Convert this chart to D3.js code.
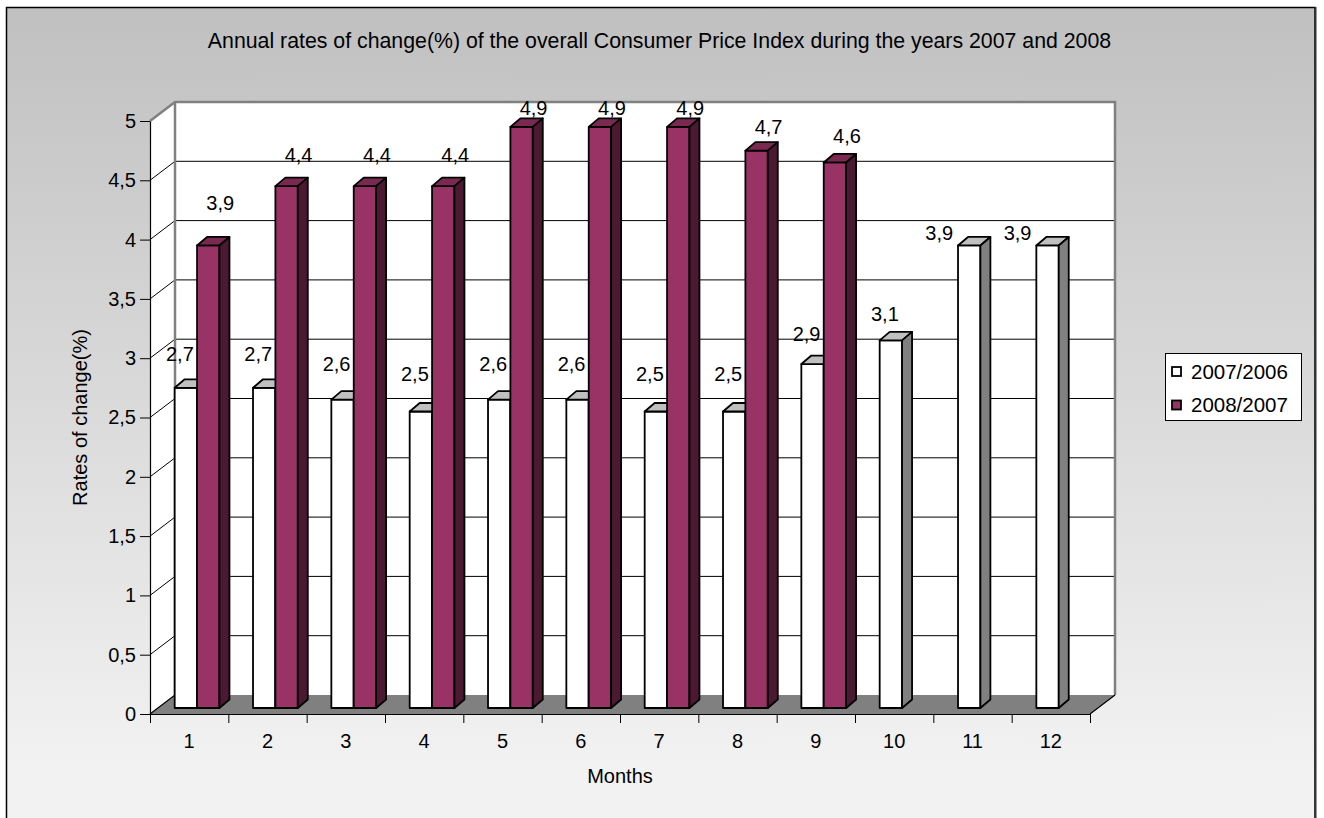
<!DOCTYPE html>
<html><head><meta charset="utf-8">
<script src="https://cdn.jsdelivr.net/npm/d3@7"></script>
<style>
body{margin:0;background:#fff}
svg text{font-family:"Liberation Sans",Arial,Helvetica,sans-serif;fill:#000}
</style>
</head><body>
<svg id="c" width="1324" height="818"></svg>
<script>
// ---- data ----
const months = ["1","2","3","4","5","6","7","8","9","10","11","12"];
const seriesNames = ["2007/2006","2008/2007"];
const rates2007 = [2.7,2.7,2.6,2.5,2.6,2.6,2.5,2.5,2.9,3.1,3.9,3.9];
const rates2008 = [3.9,4.4,4.4,4.4,4.9,4.9,4.9,4.7,4.6,null,null,null];
const yTicks = [0,0.5,1,1.5,2,2.5,3,3.5,4,4.5,5];
const titleText = "Annual rates of change(%) of the overall Consumer Price Index during the years 2007 and 2008";

// ---- layout / style ----
const W = 1324, H = 818;
const PX0 = 150, PX1 = 1090, PY0 = 714, PY1 = 121;
const DX = 25, DY = -19;            // wall depth
const BFX = 7.9, BFY = -6;          // bar front-plane offset
const BDX = 10, BDY = -8.5;         // bar depth
const colors = [
  {front:"#ffffff", top:"#c0c0c0", side:"#808080"},
  {front:"#993366", top:"#7a2951", side:"#4c1933"}
];
const fmt = v => String(v).replace(".", ",");

const svg = d3.select("#c");
const defs = svg.append("defs");
const grad = defs.append("linearGradient").attr("id","bg")
  .attr("gradientUnits","userSpaceOnUse").attr("x1",0).attr("y1",7).attr("x2",0).attr("y2",770);
grad.append("stop").attr("offset","0%").attr("stop-color","#c0c0c0");
grad.append("stop").attr("offset","100%").attr("stop-color","#f2f2f2");

svg.append("rect").attr("x",6.5).attr("y",7.5).attr("width",1308.5).attr("height",830)
  .attr("fill","url(#bg)").attr("stroke","#000").attr("stroke-width",1.5);
svg.append("line").attr("x1",1315.5).attr("x2",1315.5).attr("y1",7).attr("y2",H)
  .attr("stroke","#333").attr("stroke-width",2);

const x = d3.scaleBand().domain(months).range([PX0,PX1]);
const xb = d3.scaleLinear().domain([0,12]).range([PX0,PX1]);
const y = d3.scaleLinear().domain([0,5]).range([PY0,PY1]);
const bw = x.bandwidth()/3.5;
const gOff = (x.bandwidth()-2*bw)/2;

// walls
const g = svg.append("g");
g.append("path").attr("d",`M${PX0},${y(5)}L${PX0+DX},${y(5)+DY}L${PX0+DX},${y(0)+DY}L${PX0},${y(0)}Z`)
  .attr("fill","#fff");
g.append("rect").attr("x",PX0+DX).attr("y",y(5)+DY).attr("width",PX1-PX0).attr("height",y(0)-y(5))
  .attr("fill","#fff");
// gridlines
yTicks.filter(t=>t>0 && t<5).forEach(t=>{
  g.append("path").attr("d",`M${PX0},${y(t)}L${PX0+DX},${y(t)+DY}L${PX1+DX},${y(t)+DY}`)
    .attr("fill","none").attr("stroke","#000").attr("stroke-width",1);
});
// wall borders
g.append("path").attr("d",`M${PX0},${y(5)}L${PX0+DX},${y(5)+DY}L${PX1+DX},${y(5)+DY}L${PX1+DX},${y(0)+DY}M${PX0+DX},${y(5)+DY}L${PX0+DX},${y(0)+DY}`)
  .attr("fill","none").attr("stroke","#808080").attr("stroke-width",2.5);
// floor
g.append("path").attr("d",`M${PX0},${y(0)}L${PX0+DX},${y(0)+DY}L${PX1+DX},${y(0)+DY}L${PX1},${y(0)}Z`)
  .attr("fill","#808080");
g.append("path").attr("d",`M${PX0},${y(0)}L${PX0+DX},${y(0)+DY}M${PX1},${y(0)}L${PX1+DX},${y(0)+DY}`)
  .attr("fill","none").attr("stroke","#000").attr("stroke-width",1.2);

// axes
const yAxis = d3.axisLeft(y).tickValues(yTicks).tickSize(10).tickSizeOuter(0).tickPadding(4).tickFormat(fmt);
const ya = svg.append("g").attr("transform",`translate(${PX0},0)`).call(yAxis);
ya.selectAll("text").style("font-size","20px");
const xTickAxis = d3.axisBottom(xb).tickValues(d3.range(13)).tickSize(9).tickSizeOuter(0).tickFormat("");
svg.append("g").attr("transform",`translate(0,${PY0})`).call(xTickAxis);
const xLab = d3.axisBottom(x).tickSize(0).tickPadding(20);
const xa = svg.append("g").attr("transform",`translate(0,${PY0})`).call(xLab);
xa.select(".domain").remove();
xa.selectAll("text").style("font-size","20px");
svg.selectAll(".domain").attr("stroke","#000").attr("stroke-width",1.2);
svg.selectAll(".tick line").attr("stroke","#000");

// bars
const bars = svg.append("g");
months.forEach((m,i)=>{
  [rates2007[i], rates2008[i]].forEach((v,s)=>{
    if(v==null) return;
    const x0 = x(m)+BFX+gOff+s*bw, x1 = x0+bw;
    const yb = y(0)+BFY, yt = y(v)+BFY;
    const c = colors[s];
    const st = {stroke:"#000","stroke-width":1.8,"stroke-linejoin":"round"};
    const P = (d,f)=>{const p=bars.append("path").attr("d",d).attr("fill",f);Object.entries(st).forEach(([k,vv])=>p.attr(k,vv));};
    P(`M${x0},${yb}L${x0},${yt}L${x1},${yt}L${x1},${yb}Z`, c.front);
    P(`M${x0},${yt}L${x0+BDX},${yt+BDY}L${x1+BDX},${yt+BDY}L${x1},${yt}Z`, c.top);
    P(`M${x1},${yb}L${x1},${yt}L${x1+BDX},${yt+BDY}L${x1+BDX},${yb+BDY}Z`, c.side);
  });
});

// data labels (excel-like placement: compressed toward the plot centre)
const labelComp = [0.85, 0.8], labelLift = [0.74, 1.19];
const labels = svg.append("g");
months.forEach((m,i)=>{
  [rates2007[i], rates2008[i]].forEach((v,s)=>{
    if(v==null) return;
    const cx = x(m)+BFX+gOff+s*bw+bw/2;
    const dx = s===0 ? (i >= months.length-2 ? -30 : -6) : 12;
    const cy = y(labelComp[s]*v+labelLift[s]);
    labels.append("text").attr("x",cx+dx).attr("y",cy).attr("dy","0.35em")
      .attr("text-anchor","middle").style("font-size","20px").text(fmt(v));
  });
});

// titles
svg.append("text").attr("x",659.5).attr("y",48).attr("text-anchor","middle")
  .style("font-size","21.3px").text(titleText);
svg.append("text").attr("x",(PX0+PX1)/2).attr("y",783).attr("text-anchor","middle")
  .style("font-size","20px").text("Months");
svg.append("text").attr("transform",`translate(87,${(PY0+PY1)/2}) rotate(-90)`).attr("text-anchor","middle")
  .style("font-size","20px").text("Rates of change(%)");

// legend
const lg = svg.append("g").attr("transform","translate(1165,353)");
lg.append("rect").attr("x",0.5).attr("y",0.5).attr("width",136).attr("height",67)
  .attr("fill","#fff").attr("stroke","#000").attr("stroke-width",1);
seriesNames.forEach((n,s)=>{
  lg.append("rect").attr("x",7).attr("y",14+s*33.5).attr("width",9).attr("height",9)
    .attr("fill",colors[s].front).attr("stroke","#000").attr("stroke-width",1.8);
  lg.append("text").attr("x",26).attr("y",25.5+s*33.5).style("font-size","20.5px").text(n);
});
</script>
</body></html>
